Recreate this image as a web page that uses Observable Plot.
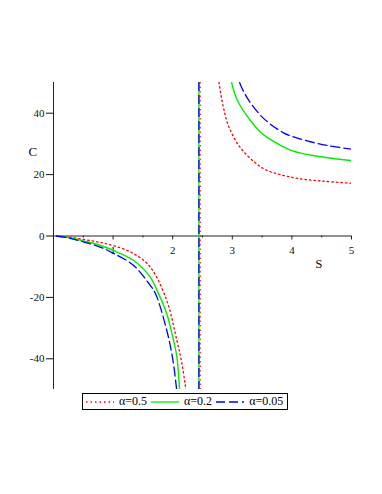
<!DOCTYPE html>
<html>
<head>
<meta charset="utf-8">
<script src="https://cdn.jsdelivr.net/npm/d3@7"></script>
<script src="https://cdn.jsdelivr.net/npm/@observablehq/plot@0.6"></script>
<style>
  html, body { margin: 0; padding: 0; background: white; }
  #wrap { position: relative; width: 382px; height: 494px; font-family: "Liberation Serif", "DejaVu Serif", serif; }
  #chart svg text { font-family: "Liberation Serif", "DejaVu Serif", serif !important; }
  #legend { position: absolute; left: 82px; top: 393px; height: 15px; border: 1px solid #000; display: flex; align-items: center; padding: 0 4px 0 3px; font-size: 12px; box-sizing: content-box; }
  #legend .item { display: flex; align-items: center; margin-right: 4px; }
  #legend .item:last-child { margin-right: 0; }
  #legend svg { display: block; }
  #legend span { margin-left: 5px; }
</style>
</head>
<body>
<div id="wrap"><div id="chart"></div><div id="legend"></div></div>
<script>
// ---- data ----
const seriesNames = ["α=0.5", "α=0.2", "α=0.05"];
const seriesColors = ["#ff0000", "#00ee00", "#0000ff"];
const seriesDash = ["1.5 3", null, "9 4"];

// left branch (S < pole)
const redLeftS   = [0.05, 0.25, 0.5, 0.78, 1.0, 1.34, 1.62, 1.90, 2.07, 2.15, 2.21, 2.24];
const redLeftC   = [0, -0.3, -1.1, -2.1, -3.1, -5.7, -10, -21, -34, -41, -48.5, -53];
const greenLeftS = [0.05, 0.25, 0.5, 0.78, 1.0, 1.34, 1.62, 1.76, 1.90, 1.96, 2.07, 2.11, 2.13];
const greenLeftC = [0, -0.5, -1.6, -3.0, -4.7, -7.9, -13.3, -18.7, -25.3, -29.6, -39.4, -48.6, -54];
const blueLeftS  = [0.05, 0.25, 0.5, 0.78, 1.0, 1.34, 1.62, 1.71, 1.90, 2.0, 2.06, 2.09];
const blueLeftC  = [0, -0.6, -1.9, -3.6, -5.6, -9.5, -16, -18.7, -30.7, -40, -49, -55];

// right branch (S > pole)
const redRightS   = [2.76, 2.78, 2.85, 2.94, 3.13, 3.39, 3.58, 4.03, 4.5, 5.0];
const redRightC   = [53, 49.6, 42, 35.7, 28.9, 23.8, 21.4, 19.0, 17.9, 17.2];
const greenRightS = [2.96, 2.98, 3.08, 3.30, 3.47, 3.58, 4.0, 4.48, 5.0];
const greenRightC = [53, 50.7, 44.4, 37.7, 33.9, 32.2, 27.8, 25.8, 24.6];
const blueRightS  = [3.08, 3.11, 3.25, 3.52, 3.86, 4.03, 4.31, 4.59, 5.0];
const blueRightC  = [54, 50.7, 45, 38.4, 33.6, 32.3, 30.7, 29.5, 28.3];

// vertical jump at the pole
const poleS = [2.46, 2.44, 2.44];

// ticks
const xMajorTicks = [1, 2, 3, 4, 5];
const xMinorTicks = [0.5, 1.5, 2.5, 3.5, 4.5];
const yTicks = [-40, -20, 0, 20, 40];
const xLabel = "S";
const yLabel = "C";

// ---- build tables ----
function zip(S, C, series, branch) { return S.map((s, i) => ({S: s, C: C[i], series, key: series + branch})); }
const leftS = [redLeftS, greenLeftS, blueLeftS], leftC = [redLeftC, greenLeftC, blueLeftC];
const rightS = [redRightS, greenRightS, blueRightS], rightC = [redRightC, greenRightC, blueRightC];
const curves = seriesNames.map((name, k) => [
  ...zip(leftS[k], leftC[k], name, "L"),
  ...zip(rightS[k], rightC[k], name, "R")
]);

const FONT = "Liberation Serif";
const marks = [
  Plot.ruleY([0], {stroke: "#222", strokeWidth: 1}),
  Plot.ruleX([0], {stroke: "#222", strokeWidth: 1}),
  Plot.ruleX(xMajorTicks, {x: d => d, y1: 0, y2: -1.3, stroke: "#222"}),
  Plot.ruleX(xMinorTicks, {x: d => d, y1: 0, y2: -0.65, stroke: "#222"}),
  Plot.text(xMajorTicks, {x: d => d, y: 0, text: d => String(d), dy: 14, fontSize: 11, fill: "#111", fontFamily: FONT}),
  Plot.axisY({anchor: "left", label: null, ticks: yTicks, tickSize: 7, tickPadding: 2, tickFormat: d => String(d), fontSize: 11, color: "#111", fontFamily: FONT}),
  Plot.text([yLabel], {frameAnchor: "top-left", text: d => d, dx: -25, dy: 64, fontSize: 13, fill: "#111", fontFamily: FONT}),
  Plot.text([xLabel], {frameAnchor: "top-right", text: d => d, dx: -29, dy: 176, fontSize: 13, fill: "#111", fontFamily: FONT})
];
seriesNames.forEach((name, k) => {
  marks.push(Plot.ruleX([poleS[k]], {x: d => d, stroke: seriesColors[k], strokeWidth: 1.3, strokeDasharray: seriesDash[k]}));
});
seriesNames.forEach((name, k) => {
  marks.push(Plot.line(curves[k], {x: "S", y: "C", z: "key", curve: "catmull-rom", stroke: seriesColors[k], strokeWidth: k === 1 ? 1.4 : 1.3, strokeDasharray: seriesDash[k], clip: true}));
});

const chart = Plot.plot({
  width: 382,
  height: 392,
  marginTop: 82,
  marginBottom: 3,
  marginLeft: 53,
  marginRight: 31,
  x: {domain: [0, 5], axis: null},
  y: {domain: [-50, 50], axis: null},
  style: {fontFamily: FONT, background: "white", overflow: "visible"},
  marks
});
document.getElementById("chart").appendChild(chart);

// ---- legend ----
const legend = document.getElementById("legend");
seriesNames.forEach((name, k) => {
  const item = document.createElement("div");
  item.className = "item";
  const dash = seriesDash[k] ? ` stroke-dasharray="${seriesDash[k]}"` : "";
  item.innerHTML = `<svg width="28" height="10"><line x1="0" y1="5" x2="28" y2="5" stroke="${seriesColors[k]}" stroke-width="1.3"${dash}/></svg><span>${name}</span>`;
  legend.appendChild(item);
});
</script>
</body>
</html>
